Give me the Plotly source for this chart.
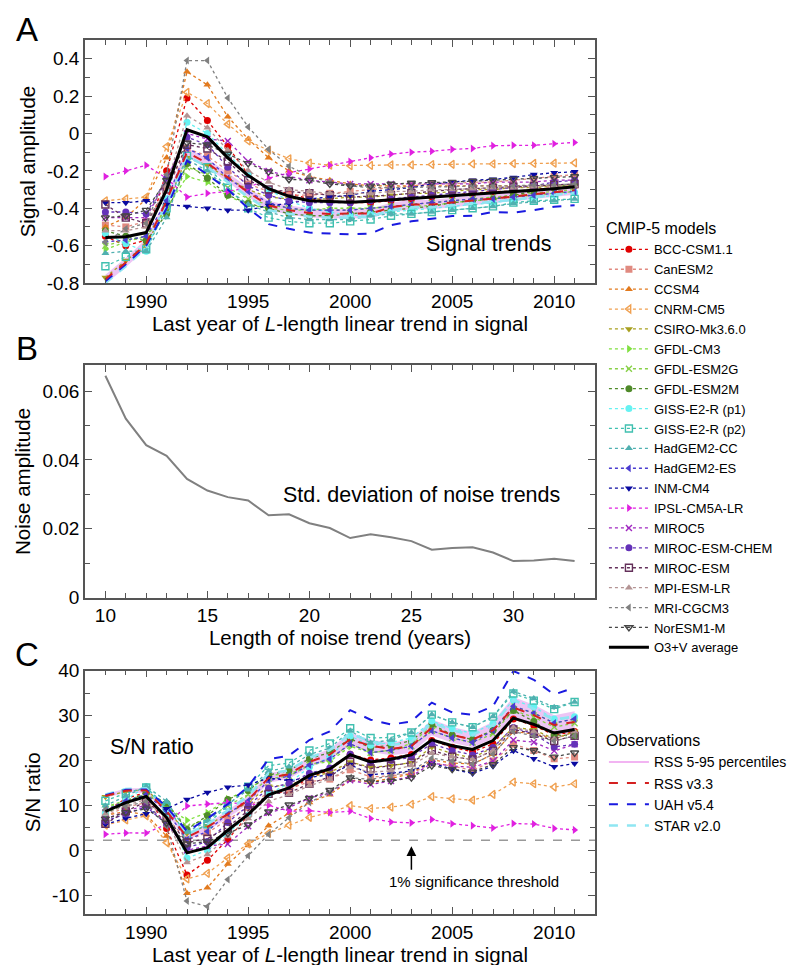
import plotly.graph_objects as go

# ---------------- data ----------------
years = list(range(1988, 2012))
noise_len = list(range(10, 34))
noise_std = [0.0645, 0.052, 0.0443, 0.0412, 0.0345, 0.0311, 0.0292, 0.0282, 0.0239, 0.0242, 0.0216, 0.0202,
             0.0173, 0.0184, 0.0175, 0.0164, 0.0139, 0.0144, 0.0146, 0.0131, 0.0106, 0.0108, 0.0113, 0.0106]

# Panel A: signal amplitude
sig_bcc = [-0.55, -0.60, -0.57, -0.20, 0.19, 0.07, -0.07, -0.22, -0.30, -0.32, -0.35, -0.36, -0.37, -0.37, -0.36, -0.35, -0.34, -0.33, -0.32, -0.31, -0.31, -0.30, -0.29, -0.28]
sig_canesm2 = [-0.49, -0.50, -0.47, -0.30, -0.08, -0.12, -0.20, -0.27, -0.31, -0.33, -0.33, -0.32, -0.31, -0.30, -0.29, -0.28, -0.27, -0.27, -0.26, -0.26, -0.25, -0.24, -0.23, -0.22]
sig_ccsm4 = [-0.50, -0.45, -0.35, -0.13, 0.33, 0.26, 0.09, -0.03, -0.13, -0.20, -0.23, -0.25, -0.27, -0.28, -0.28, -0.28, -0.28, -0.28, -0.28, -0.28, -0.28, -0.28, -0.28, -0.28]
sig_cnrm = [-0.36, -0.35, -0.34, -0.07, 0.22, 0.16, 0.05, -0.04, -0.09, -0.135, -0.158, -0.17, -0.172, -0.171, -0.168, -0.168, -0.166, -0.165, -0.163, -0.163, -0.161, -0.160, -0.159, -0.157]
sig_csiro = [-0.77, -0.68, -0.60, -0.38, -0.13, -0.17, -0.24, -0.30, -0.34, -0.35, -0.35, -0.35, -0.34, -0.34, -0.33, -0.32, -0.32, -0.31, -0.30, -0.30, -0.29, -0.29, -0.28, -0.28]
sig_gfdlcm3 = [-0.62, -0.58, -0.55, -0.40, -0.23, -0.26, -0.335, -0.38, -0.40, -0.41, -0.41, -0.40, -0.40, -0.40, -0.39, -0.39, -0.385, -0.37, -0.36, -0.35, -0.34, -0.33, -0.32, -0.31]
sig_esm2g = [-0.60, -0.57, -0.55, -0.42, -0.18, -0.22, -0.29, -0.35, -0.38, -0.40, -0.41, -0.41, -0.41, -0.40, -0.39, -0.38, -0.37, -0.36, -0.35, -0.34, -0.33, -0.32, -0.31, -0.30]
sig_esm2m = [-0.52, -0.55, -0.575, -0.43, -0.16, -0.24, -0.33, -0.375, -0.40, -0.43, -0.44, -0.44, -0.43, -0.42, -0.41, -0.40, -0.39, -0.37, -0.36, -0.35, -0.33, -0.31, -0.29, -0.27]
sig_gissp1 = [-0.535, -0.59, -0.63, -0.35, 0.06, 0.0, -0.11, -0.22, -0.30, -0.36, -0.40, -0.42, -0.44, -0.43, -0.42, -0.41, -0.40, -0.39, -0.38, -0.37, -0.355, -0.345, -0.33, -0.315]
sig_gissp2 = [-0.71, -0.66, -0.62, -0.40, -0.12, -0.18, -0.29, -0.40, -0.45, -0.47, -0.48, -0.48, -0.47, -0.46, -0.44, -0.43, -0.42, -0.41, -0.40, -0.39, -0.37, -0.36, -0.355, -0.35]
sig_hadcc = [-0.64, -0.63, -0.63, -0.45, -0.14, -0.20, -0.30, -0.38, -0.42, -0.45, -0.46, -0.46, -0.46, -0.44, -0.43, -0.43, -0.42, -0.41, -0.40, -0.39, -0.375, -0.365, -0.36, -0.35]
sig_hades = [-0.58, -0.57, -0.55, -0.36, -0.08, -0.13, -0.24, -0.31, -0.37, -0.40, -0.41, -0.41, -0.41, -0.40, -0.39, -0.38, -0.37, -0.36, -0.35, -0.35, -0.34, -0.33, -0.32, -0.31]
sig_inm = [-0.37, -0.37, -0.36, -0.38, -0.39, -0.40, -0.41, -0.41, -0.385, -0.375, -0.35, -0.34, -0.33, -0.31, -0.30, -0.29, -0.27, -0.26, -0.25, -0.245, -0.235, -0.22, -0.21, -0.205]
sig_ipsl = [-0.23, -0.20, -0.17, -0.24, -0.34, -0.32, -0.31, -0.29, -0.24, -0.21, -0.19, -0.17, -0.15, -0.13, -0.11, -0.10, -0.095, -0.085, -0.08, -0.065, -0.063, -0.063, -0.055, -0.048]
sig_miroc5 = [-0.45, -0.45, -0.45, -0.25, 0.0, -0.03, -0.04, -0.15, -0.20, -0.23, -0.25, -0.26, -0.27, -0.27, -0.27, -0.27, -0.27, -0.27, -0.27, -0.26, -0.26, -0.26, -0.25, -0.25]
sig_mirocchem = [-0.42, -0.42, -0.43, -0.24, -0.02, -0.06, -0.18, -0.28, -0.33, -0.36, -0.37, -0.37, -0.37, -0.36, -0.35, -0.34, -0.33, -0.32, -0.31, -0.30, -0.29, -0.28, -0.26, -0.25]
sig_mirocesm = [-0.38, -0.45, -0.48, -0.30, -0.06, -0.08, -0.15, -0.25, -0.30, -0.31, -0.32, -0.33, -0.34, -0.335, -0.33, -0.32, -0.31, -0.30, -0.295, -0.29, -0.285, -0.28, -0.275, -0.27]
sig_mpi = [-0.52, -0.52, -0.50, -0.28, 0.095, 0.03, -0.09, -0.20, -0.26, -0.30, -0.31, -0.32, -0.32, -0.32, -0.31, -0.31, -0.30, -0.30, -0.295, -0.29, -0.29, -0.285, -0.28, -0.28]
sig_mri = [-0.58, -0.51, -0.48, -0.22, 0.39, 0.39, 0.19, 0.035, -0.085, -0.175, -0.23, -0.26, -0.28, -0.29, -0.29, -0.29, -0.285, -0.285, -0.28, -0.28, -0.28, -0.275, -0.275, -0.27]
sig_noresm = [-0.45, -0.44, -0.41, -0.25, -0.05, -0.06, -0.11, -0.16, -0.205, -0.245, -0.25, -0.27, -0.28, -0.28, -0.27, -0.265, -0.262, -0.26, -0.255, -0.25, -0.243, -0.24, -0.235, -0.23]
sig_o3v = [-0.557, -0.552, -0.530, -0.300, 0.020, -0.018, -0.130, -0.225, -0.295, -0.336, -0.360, -0.366, -0.368, -0.362, -0.355, -0.348, -0.342, -0.335, -0.328, -0.320, -0.312, -0.303, -0.295, -0.285]
sig_rss = [-0.78, -0.69, -0.59, -0.36, -0.10, -0.16, -0.235, -0.315, -0.385, -0.41, -0.425, -0.43, -0.428, -0.428, -0.395, -0.38, -0.38, -0.37, -0.36, -0.35, -0.337, -0.325, -0.315, -0.303]
sig_rss_hi = [-0.755, -0.665, -0.565, -0.335, -0.075, -0.135, -0.21, -0.29, -0.36, -0.385, -0.40, -0.405, -0.403, -0.403, -0.37, -0.355, -0.355, -0.345, -0.335, -0.325, -0.312, -0.30, -0.29, -0.278]
sig_rss_lo = [-0.805, -0.715, -0.615, -0.385, -0.125, -0.185, -0.26, -0.34, -0.41, -0.435, -0.45, -0.455, -0.453, -0.453, -0.42, -0.405, -0.405, -0.395, -0.385, -0.375, -0.362, -0.35, -0.34, -0.328]
sig_uah = [-0.79, -0.70, -0.60, -0.40, -0.145, -0.22, -0.30, -0.40, -0.485, -0.51, -0.53, -0.535, -0.54, -0.535, -0.49, -0.47, -0.457, -0.442, -0.44, -0.42, -0.423, -0.41, -0.392, -0.384]
sig_star = [-0.80, -0.71, -0.61, -0.38, -0.12, -0.18, -0.26, -0.34, -0.41, -0.43, -0.445, -0.45, -0.45, -0.445, -0.41, -0.395, -0.395, -0.385, -0.375, -0.365, -0.355, -0.34, -0.328, -0.316]

# Panel C: signal-to-noise ratio
sn_bcc = [8.53, 11.54, 12.86, 4.85, -5.51, -2.25, 2.40, 7.80, 12.55, 13.22, 16.21, 17.82, 21.39, 20.11, 20.57, 21.34, 24.46, 22.92, 21.92, 23.67, 29.25, 27.78, 25.67, 26.42]
sn_canesm2 = [7.60, 9.62, 10.61, 7.28, 2.32, 3.86, 6.85, 9.57, 12.97, 13.64, 15.28, 15.84, 17.92, 16.31, 16.57, 17.07, 19.42, 18.75, 17.81, 19.85, 23.59, 22.22, 20.36, 20.75]
sn_ccsm4 = [7.75, 8.65, 7.90, 3.16, -9.57, -8.36, -3.08, 1.06, 5.44, 8.26, 10.65, 12.38, 15.61, 15.22, 16.0, 17.07, 20.14, 19.44, 19.18, 21.38, 26.42, 25.93, 24.78, 26.42]
sn_cnrm = [5.58, 6.73, 7.67, 1.70, -6.38, -5.14, -1.71, 1.42, 3.77, 5.58, 7.32, 8.42, 9.94, 9.29, 9.60, 10.24, 11.94, 11.46, 11.16, 12.44, 15.19, 14.81, 14.07, 14.81]
sn_csiro = [11.94, 13.08, 13.54, 9.22, 3.77, 5.47, 8.22, 10.64, 14.23, 14.46, 16.21, 17.33, 19.65, 18.48, 18.86, 19.51, 23.02, 21.53, 20.55, 22.90, 27.36, 26.85, 24.78, 26.42]
sn_gfdlcm3 = [9.61, 11.15, 12.41, 9.71, 6.67, 8.36, 11.47, 13.47, 16.74, 16.94, 18.98, 19.80, 23.12, 21.74, 22.28, 23.78, 27.70, 25.69, 24.66, 26.72, 32.08, 30.55, 28.32, 29.25]
sn_esm2g = [9.30, 10.96, 12.41, 10.19, 5.22, 7.07, 9.93, 12.41, 15.90, 16.53, 18.98, 20.30, 23.70, 21.74, 22.28, 23.17, 26.62, 25.0, 23.97, 25.96, 31.13, 29.63, 27.44, 28.30]
sn_esm2m = [8.06, 10.58, 12.98, 10.44, 4.64, 7.72, 11.30, 13.30, 16.74, 17.77, 20.37, 21.78, 24.85, 22.83, 23.43, 24.39, 28.06, 25.69, 24.66, 26.72, 31.13, 28.70, 25.67, 25.47]
sn_gissp1 = [8.29, 11.35, 14.22, 8.49, -1.74, 0.0, 3.77, 7.80, 12.55, 14.88, 18.52, 20.79, 25.43, 23.37, 24.0, 25.0, 28.78, 27.08, 26.03, 28.25, 33.49, 31.94, 29.21, 29.72]
sn_gissp2 = [11.01, 12.69, 13.99, 9.71, 3.48, 5.79, 9.93, 14.18, 18.83, 19.42, 22.22, 23.76, 27.17, 25.0, 25.14, 26.22, 30.21, 28.47, 27.40, 29.77, 34.91, 33.33, 31.42, 33.02]
sn_hadcc = [9.92, 12.11, 14.22, 10.92, 4.06, 6.43, 10.28, 13.47, 17.57, 18.59, 21.30, 22.77, 26.59, 23.91, 24.57, 26.22, 30.21, 28.47, 27.40, 29.77, 35.38, 33.80, 31.86, 33.02]
sn_hades = [8.99, 10.96, 12.41, 8.74, 2.32, 4.18, 8.22, 10.99, 15.48, 16.53, 18.98, 20.30, 23.70, 21.74, 22.28, 23.17, 26.62, 25.0, 23.97, 26.72, 32.08, 30.55, 28.32, 29.25]
sn_inm = [5.74, 7.12, 8.13, 9.22, 11.31, 12.86, 14.04, 14.54, 16.11, 15.50, 16.21, 16.83, 19.07, 16.85, 17.14, 17.68, 19.42, 18.05, 17.12, 18.70, 22.17, 20.37, 18.59, 19.34]
sn_ipsl = [3.57, 3.85, 3.84, 5.82, 9.86, 10.29, 10.62, 10.28, 10.04, 8.68, 8.80, 8.42, 8.67, 7.07, 6.29, 6.10, 6.83, 5.90, 5.48, 4.96, 5.94, 5.83, 4.87, 4.53]
sn_miroc5 = [6.98, 8.65, 10.16, 6.07, 0.0, 0.96, 1.37, 5.32, 8.37, 9.50, 11.58, 12.87, 15.61, 14.67, 15.43, 16.46, 19.42, 18.75, 18.49, 19.85, 24.53, 24.07, 22.13, 23.59]
sn_mirocchem = [6.51, 8.08, 9.71, 5.82, 0.58, 1.93, 6.17, 9.93, 13.81, 14.88, 17.13, 18.32, 21.39, 19.57, 20.0, 20.73, 23.74, 22.22, 21.23, 22.90, 27.36, 25.93, 23.01, 23.59]
sn_mirocesm = [5.89, 8.65, 10.83, 7.28, 1.74, 2.57, 5.14, 8.87, 12.55, 12.81, 14.82, 16.34, 19.65, 18.21, 18.86, 19.51, 22.30, 20.83, 20.20, 22.14, 26.89, 25.93, 24.34, 25.47]
sn_mpi = [8.06, 10.0, 11.29, 6.80, -2.75, -0.96, 3.08, 7.09, 10.88, 12.40, 14.35, 15.84, 18.50, 17.39, 17.71, 18.90, 21.58, 20.83, 20.20, 22.14, 27.36, 26.39, 24.78, 26.42]
sn_mri = [8.99, 9.81, 10.83, 5.34, -11.31, -12.54, -6.51, -1.24, 3.56, 7.23, 10.65, 12.87, 16.18, 15.76, 16.57, 17.68, 20.50, 19.79, 19.18, 21.38, 26.42, 25.46, 24.34, 25.47]
sn_noresm = [6.98, 8.46, 9.25, 6.07, 1.45, 1.93, 3.77, 5.67, 8.58, 10.12, 11.58, 13.37, 16.18, 15.22, 15.43, 16.16, 18.85, 18.05, 17.46, 19.09, 22.92, 22.22, 20.80, 21.70]
sn_o3v = [8.63, 10.62, 11.96, 7.28, -0.58, 0.58, 4.45, 7.98, 12.34, 13.88, 16.67, 18.12, 21.27, 19.67, 20.28, 21.22, 24.60, 23.26, 22.46, 24.43, 29.43, 28.05, 26.11, 26.89]
sn_rss = [12.09, 13.27, 13.32, 8.74, 2.90, 5.14, 8.05, 11.17, 16.11, 16.94, 19.68, 21.29, 24.74, 23.26, 22.57, 23.17, 27.34, 25.69, 24.66, 26.72, 31.79, 30.09, 27.88, 28.58]
sn_rss_hi = [12.48, 13.75, 13.88, 9.35, 3.62, 5.94, 8.91, 12.06, 17.16, 17.97, 20.84, 22.53, 26.19, 24.62, 24.0, 24.69, 29.14, 27.43, 26.37, 28.63, 34.15, 32.4, 30.09, 30.94]
sn_rss_lo = [11.7, 12.79, 12.76, 8.13, 2.18, 4.34, 7.19, 10.28, 15.06, 15.91, 18.52, 20.05, 23.29, 21.9, 21.14, 21.65, 25.54, 23.95, 22.95, 24.81, 29.43, 27.78, 25.67, 26.22]
sn_uah = [12.25, 13.46, 13.54, 9.71, 4.20, 7.07, 10.28, 14.18, 20.29, 21.07, 24.54, 26.48, 31.21, 29.08, 28.0, 28.66, 32.88, 30.69, 30.14, 32.06, 39.91, 37.96, 34.69, 36.23]
sn_star = [12.4, 13.65, 13.77, 9.22, 3.48, 5.79, 8.91, 12.06, 17.15, 17.77, 20.6, 22.28, 26.01, 24.19, 23.43, 24.09, 28.42, 26.73, 25.68, 27.86, 33.49, 31.48, 29.03, 29.81]

threshold_1pct = 2.2
threshold_arrow_year = 2003

model_names = ["BCC-CSM1.1", "CanESM2", "CCSM4", "CNRM-CM5", "CSIRO-Mk3.6.0", "GFDL-CM3", "GFDL-ESM2G",
               "GFDL-ESM2M", "GISS-E2-R (p1)", "GISS-E2-R (p2)", "HadGEM2-CC", "HadGEM2-ES", "INM-CM4",
               "IPSL-CM5A-LR", "MIROC5", "MIROC-ESM-CHEM", "MIROC-ESM", "MPI-ESM-LR", "MRI-CGCM3", "NorESM1-M"]
model_signal = [sig_bcc, sig_canesm2, sig_ccsm4, sig_cnrm, sig_csiro, sig_gfdlcm3, sig_esm2g, sig_esm2m,
                sig_gissp1, sig_gissp2, sig_hadcc, sig_hades, sig_inm, sig_ipsl, sig_miroc5, sig_mirocchem,
                sig_mirocesm, sig_mpi, sig_mri, sig_noresm]
model_sn = [sn_bcc, sn_canesm2, sn_ccsm4, sn_cnrm, sn_csiro, sn_gfdlcm3, sn_esm2g, sn_esm2m,
            sn_gissp1, sn_gissp2, sn_hadcc, sn_hades, sn_inm, sn_ipsl, sn_miroc5, sn_mirocchem,
            sn_mirocesm, sn_mpi, sn_mri, sn_noresm]

# ---------------- styles ----------------
model_colors = ["#e00000", "#e08a80", "#e27a1e", "#f0a050", "#a8a020", "#80e040", "#88d048",
                "#4f8a2a", "#66f2f2", "#40c0b0", "#50b0b0", "#4a3cd0", "#0a0aa0",
                "#e020e0", "#a028c0", "#6432b8", "#64305a", "#b49494", "#808080", "#454545"]
model_symbols = ["circle", "square", "triangle-up", "triangle-left-open", "triangle-down", "triangle-right",
                 "x-thin", "circle", "circle", "square-open", "triangle-up", "triangle-left", "triangle-down",
                 "triangle-right", "x-thin", "circle", "square-open", "triangle-up", "triangle-left",
                 "triangle-down-open"]

FONT = "Liberation Sans, Arial, sans-serif"
W, H = 796, 965
ML, MR, MT, MB = 77, 205, 32, 52
PW, PH = W - ML - MR, H - MT - MB


def px(x):
    return (x - ML) / PW


def py(y):
    return (H - MB - y) / PH


fig = go.Figure()

obs_defs = [
    ("STAR v2.0", sig_star, sn_star, dict(color="#8fe6f2", width=2.6, dash="dash")),
    ("UAH v5.4", sig_uah, sn_uah, dict(color="#1a1ae0", width=2.0, dash="dash")),
    ("RSS v3.3", sig_rss, sn_rss, dict(color="#d42020", width=2.0, dash="dash")),
]
band_color = "rgba(222,150,236,0.55)"

for panel, (xa, ya) in enumerate([("x", "y"), ("x3", "y3")]):
    lo = sig_rss_lo if panel == 0 else sn_rss_lo
    hi = sig_rss_hi if panel == 0 else sn_rss_hi
    fig.add_trace(go.Scatter(x=years, y=lo, xaxis=xa, yaxis=ya, mode="lines",
                             line=dict(width=0, color=band_color), showlegend=False, hoverinfo="skip"))
    fig.add_trace(go.Scatter(x=years, y=hi, xaxis=xa, yaxis=ya, mode="lines", fill="tonexty",
                             fillcolor=band_color, line=dict(width=0, color=band_color),
                             showlegend=False, hoverinfo="skip"))
    for i, name in enumerate(model_names):
        yv = model_signal[i] if panel == 0 else model_sn[i]
        c = model_colors[i]
        sym = model_symbols[i]
        thin = sym.startswith("x")
        fig.add_trace(go.Scatter(
            x=years, y=yv, xaxis=xa, yaxis=ya, mode="lines+markers", name=name,
            line=dict(color=c, width=1.3, dash="dot"),
            marker=dict(symbol=sym, size=6 if thin else 7, color=c,
                        line=dict(color=c, width=1.4 if (thin or "open" in sym) else 0)),
            legend="legend", legendrank=i + 1, showlegend=(panel == 0)))
    for j, (name, s, sn, ln) in enumerate(obs_defs):
        fig.add_trace(go.Scatter(x=years, y=s if panel == 0 else sn, xaxis=xa, yaxis=ya, mode="lines",
                                 name=name, line=ln, legend="legend2", legendgroup=name,
                                 legendrank=100 + (4 - j), showlegend=(panel == 0)))
    fig.add_trace(go.Scatter(x=years, y=sig_o3v if panel == 0 else sn_o3v, xaxis=xa, yaxis=ya,
                             mode="lines", name="O3+V average", line=dict(color="black", width=3),
                             legend="legend", legendrank=50, showlegend=(panel == 0)))

# legend entry for the RSS percentile band
fig.add_trace(go.Scatter(x=[None], y=[None], mode="lines", name="RSS 5-95 percentiles",
                         line=dict(color="#f2b4f2", width=2), legend="legend2",
                         legendgroup="band", legendrank=100))

# Panel B
fig.add_trace(go.Scatter(x=noise_len, y=noise_std, xaxis="x2", yaxis="y2", mode="lines",
                         line=dict(color="#808080", width=2), showlegend=False))

AX = "#555555"
TICKF = dict(family=FONT, size=19, color="black")
TITLEF = dict(family=FONT, size=20.5, color="black")


def axis(domain, anchor, rng, tickvals, ticktext, minor_vals, title=None, standoff=4):
    d = dict(domain=domain, anchor=anchor, range=rng, showline=True, linecolor=AX, linewidth=1.5,
             mirror="ticks", ticks="inside", ticklen=7, tickwidth=1.3, tickcolor=AX,
             tickmode="array", tickvals=tickvals, ticktext=ticktext, tickfont=TICKF,
             showgrid=False, zeroline=False,
             minor=dict(tickmode="array", tickvals=minor_vals, ticks="inside", ticklen=5,
                        tickwidth=1.3, tickcolor=AX, showgrid=False))
    if title:
        d["title"] = dict(text=title, font=TITLEF, standoff=standoff)
    return d


yr_major = [1990, 1995, 2000, 2005, 2010]
yr_minor = list(range(1987, 2013))
xt_title = "Last year of <i>L</i>-length linear trend in signal"

yA = [-0.8, -0.6, -0.4, -0.2, 0, 0.2, 0.4]
yA_txt = ["-0.8", "-0.6", "-0.4", "-0.2", "0", "0.2", "0.4"]
yA_minor = [round(-0.8 + 0.1 * k, 1) for k in range(14)]
yB = [0, 0.02, 0.04, 0.06]
yB_txt = ["0", "0.02", "0.04", "0.06"]
yB_minor = [0.01 * k for k in range(8)]
yC = [-10, 0, 10, 20, 30, 40]
yC_txt = ["-10", "0", "10", "20", "30", "40"]
yC_minor = [-10 + 5 * k for k in range(11)]

dA = [py(277), 1.0]
dB = [py(594), py(360)]
dC = [0.0, py(667.7)]

fig.update_layout(
    width=W, height=H, margin=dict(l=ML, r=MR, t=MT, b=MB),
    paper_bgcolor="white", plot_bgcolor="white",
    font=dict(family=FONT, color="black"),
    xaxis=axis([0, 1], "y", [1987, 2012], yr_major, [str(v) for v in yr_major], yr_minor, xt_title),
    yaxis=axis(dA, "x", [-0.8, 0.5], yA, yA_txt, yA_minor, "Signal amplitude", 6),
    xaxis2=axis([0, 1], "y2", [9, 34], [10, 15, 20, 25, 30], ["10", "15", "20", "25", "30"],
                list(range(9, 35)), "Length of noise trend (years)"),
    yaxis2=axis(dB, "x2", [0, 0.0675], yB, yB_txt, yB_minor, "Noise amplitude", 6),
    xaxis3=axis([0, 1], "y3", [1987, 2012], yr_major, [str(v) for v in yr_major], yr_minor, xt_title),
    yaxis3=axis(dC, "x3", [-14.2, 40], yC, yC_txt, yC_minor, "S/N ratio", 6),
    legend=dict(x=px(600), y=py(207), xanchor="left", yanchor="top", traceorder="normal",
                title=dict(text="CMIP-5 models", font=dict(family=FONT, size=16)),
                font=dict(family=FONT, size=13), bgcolor="rgba(0,0,0,0)", tracegroupgap=0,
                itemwidth=40),
    legend2=dict(x=px(600), y=py(723), xanchor="left", yanchor="top",
                 title=dict(text="Observations", font=dict(family=FONT, size=16)),
                 font=dict(family=FONT, size=14), bgcolor="rgba(0,0,0,0)", tracegroupgap=0,
                 traceorder="grouped", itemwidth=40),
    showlegend=True,
)

fig.add_shape(type="line", xref="x3 domain", yref="y3", x0=0, x1=1, y0=threshold_1pct, y1=threshold_1pct,
              line=dict(color="#999999", width=1.5, dash="dash"), layer="below")

ann = [
    dict(text="Signal trends", x=2006.8, y=-0.59, xref="x", yref="y", font=dict(size=21.5)),
    dict(text="Std. deviation of noise trends", x=25.5, y=0.0299, xref="x2", yref="y2", font=dict(size=21.5)),
    dict(text="S/N ratio", x=1990.3, y=22.9, xref="x3", yref="y3", font=dict(size=21.5)),
    dict(text="1% significance threshold", x=2006.05, y=-6.9, xref="x3", yref="y3", font=dict(size=15)),
    dict(text="A", x=px(19), y=py(21), xref="paper", yref="paper", font=dict(size=33)),
    dict(text="B", x=px(19), y=py(343), xref="paper", yref="paper", font=dict(size=33)),
    dict(text="C", x=px(19), y=py(651), xref="paper", yref="paper", font=dict(size=33)),
]
for a in ann:
    a["font"]["family"] = FONT
    a["font"]["color"] = "black"
    fig.add_annotation(showarrow=False, xanchor="center", yanchor="middle", **a)

fig.add_annotation(x=threshold_arrow_year, y=0.9, xref="x3", yref="y3", text="", showarrow=True,
                   ax=0, ay=25, arrowhead=2, arrowsize=1.3, arrowwidth=1.5, arrowcolor="black")

fig.write_html("out.html")
